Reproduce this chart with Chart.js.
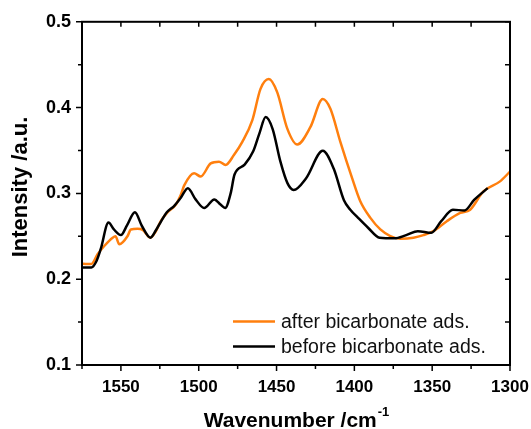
<!DOCTYPE html>
<html>
<head>
<meta charset="utf-8">
<script src="https://cdn.jsdelivr.net/npm/chart.js@4.4.1/dist/chart.umd.min.js"></script>
<style>
  html, body { margin: 0; padding: 0; background: #fff; }
  #wrap { width: 531px; height: 429px; }
</style>
</head>
<body>
<div id="wrap"><canvas id="irChart" width="531" height="429"></canvas></div>
<script>
// wavenumbers (cm-1) and intensities
const wnAfter = [1574.5, 1569, 1565, 1560.7, 1555.3, 1553.5, 1551, 1545.7, 1543.6, 1539.3,
    1536, 1531.2, 1527.5, 1524.4, 1520, 1514.7, 1511.5, 1509.4, 1503, 1498.7,
    1492.3, 1487, 1482.7, 1477.4, 1472, 1465.6, 1460.3, 1455, 1449.6, 1443.1,
    1436.7, 1428.2, 1420.3, 1415.4, 1409, 1401.5, 1396.2, 1389.7, 1383.3, 1376.9,
    1370.5, 1362, 1355.6, 1349.2, 1340.6, 1332, 1325.6, 1317.1, 1306.4, 1300];
const after = [0.218, 0.2176, 0.229, 0.2387, 0.2484, 0.250, 0.2407, 0.2503, 0.258, 0.2587,
    0.2575, 0.2484, 0.256, 0.2676, 0.278, 0.287, 0.2985, 0.309, 0.3235, 0.3197,
    0.335, 0.337, 0.3332, 0.3447, 0.36, 0.385, 0.4218, 0.4333, 0.418, 0.3755,
    0.357, 0.3775, 0.41, 0.3986, 0.36, 0.318, 0.2908, 0.2715, 0.258, 0.2503,
    0.2472, 0.2484, 0.2514, 0.256, 0.2676, 0.2772, 0.281, 0.3023, 0.314, 0.3254];

const wnBefore = [1574.5, 1569, 1566, 1563, 1558, 1554.5, 1550, 1546, 1541, 1536.5,
    1531, 1527.5, 1524, 1520.5, 1516, 1511.5, 1507, 1502, 1496.5, 1490,
    1486, 1483, 1479.5, 1477, 1470.5, 1465, 1461, 1457, 1452.5, 1447.5,
    1443, 1439, 1431, 1420.3, 1413.3, 1406.7, 1402.6, 1397.6, 1391.2, 1383.8,
    1374.2, 1366.7, 1359.2, 1350.6, 1344.2, 1336.7, 1329.3, 1322.9, 1314.3];
const before = [0.2136, 0.2136, 0.22, 0.235, 0.266, 0.258, 0.2514, 0.263, 0.278, 0.262,
    0.2484, 0.257, 0.268, 0.278, 0.285, 0.295, 0.306, 0.293, 0.283, 0.293,
    0.287, 0.283, 0.30, 0.322, 0.3335, 0.349, 0.37, 0.389, 0.375, 0.337,
    0.312, 0.304, 0.3177, 0.3497, 0.329, 0.292, 0.281, 0.2715, 0.26, 0.2484,
    0.2476, 0.2514, 0.256, 0.254, 0.2676, 0.281, 0.28, 0.2927, 0.3061];

const seriesNames = ['after bicarbonate ads.', 'before bicarbonate ads.'];
const xTitle = 'Wavenumber /cm';
const yTitle = 'Intensity /a.u.';

function pts(xs, ys) {
    return xs.map((x, i) => ({ x: x, y: ys[i] }));
}

function isMajor(v, step) {
    const r = v / step;
    return Math.abs(r - Math.round(r)) < 1e-6;
}

// frame, ticks on all four sides, axis titles and legend
const decor = {
    id: 'decor',
    afterDraw(chart) {
        const ctx = chart.ctx;
        const a = chart.chartArea;
        const xs = chart.scales.x, ys = chart.scales.y;
        ctx.save();
        ctx.strokeStyle = '#000';
        ctx.lineWidth = 1.5;
        xs.ticks.forEach(t => {
            const px = xs.getPixelForValue(t.value);
            const len = isMajor(t.value, 50) ? 6 : 4;
            ctx.beginPath();
            ctx.moveTo(px, a.bottom); ctx.lineTo(px, a.bottom + len);
            ctx.moveTo(px, a.top); ctx.lineTo(px, a.top + 5);
            ctx.stroke();
        });
        ys.ticks.forEach(t => {
            const py = ys.getPixelForValue(t.value);
            const len = isMajor(t.value, 0.1) ? 6 : 4;
            ctx.beginPath();
            ctx.moveTo(a.left, py); ctx.lineTo(a.left - len, py);
            ctx.moveTo(a.right, py); ctx.lineTo(a.right - 5, py);
            ctx.stroke();
        });
        ctx.lineWidth = 2;
        ctx.strokeRect(a.left, a.top, a.right - a.left, a.bottom - a.top);

        // x title with superscript
        ctx.fillStyle = '#000';
        ctx.textBaseline = 'alphabetic';
        ctx.font = 'bold 21px "Liberation Sans", Arial, sans-serif';
        const w1 = ctx.measureText(xTitle).width;
        ctx.font = 'bold 13px "Liberation Sans", Arial, sans-serif';
        const w2 = ctx.measureText('-1').width;
        const cx = (a.left + a.right) / 2;
        const x0 = cx - (w1 + w2) / 2;
        ctx.font = 'bold 21px "Liberation Sans", Arial, sans-serif';
        ctx.textAlign = 'left';
        ctx.fillText(xTitle, x0, 427);
        ctx.font = 'bold 13px "Liberation Sans", Arial, sans-serif';
        ctx.fillText('-1', x0 + w1 + 1, 416);

        // y title
        ctx.save();
        ctx.translate(21, 187);
        ctx.rotate(-Math.PI / 2);
        ctx.font = 'bold 22px "Liberation Sans", Arial, sans-serif';
        ctx.textAlign = 'center';
        ctx.textBaseline = 'middle';
        ctx.fillText(yTitle, 0, 0);
        ctx.restore();

        // legend
        const order = [1, 0];
        const rows = [321.5, 346.5];
        ctx.font = '19.5px "Liberation Sans", Arial, sans-serif';
        ctx.textAlign = 'left';
        ctx.textBaseline = 'middle';
        order.forEach((di, i) => {
            const ds = chart.data.datasets[di];
            ctx.strokeStyle = ds.borderColor;
            ctx.lineWidth = 2.5;
            ctx.beginPath();
            ctx.moveTo(233, rows[i]); ctx.lineTo(275, rows[i]);
            ctx.stroke();
            ctx.fillStyle = '#111';
            ctx.fillText(ds.label, 281, rows[i] + 1);
        });
        ctx.restore();
    }
};

const chart = new Chart(document.getElementById('irChart'), {
    type: 'line',
    data: {
        datasets: [
            {
                label: seriesNames[1],
                data: pts(wnBefore, before),
                borderColor: '#000000',
                borderWidth: 2.5,
                pointRadius: 0,
                cubicInterpolationMode: 'monotone',
                fill: false
            },
            {
                label: seriesNames[0],
                data: pts(wnAfter, after),
                borderColor: '#ff7f0e',
                borderWidth: 2.5,
                pointRadius: 0,
                cubicInterpolationMode: 'monotone',
                fill: false
            }
        ]
    },
    options: {
        responsive: false,
        animation: false,
        devicePixelRatio: 1,
        layout: { padding: { top: 19, right: 21, left: 0, bottom: 0 } },
        plugins: {
            legend: { display: false },
            tooltip: { enabled: false }
        },
        scales: {
            x: {
                type: 'linear',
                reverse: true,
                min: 1300,
                max: 1575,
                afterFit: s => { s.height = 64; },
                afterBuildTicks: s => {
                    const t = [];
                    for (let v = 1300; v <= 1575; v += 25) t.push({ value: v });
                    s.ticks = t;
                },
                grid: { display: false, drawTicks: false },
                border: { display: false },
                ticks: {
                    padding: 12,
                    autoSkip: false,
                    maxRotation: 0,
                    color: '#000',
                    font: { family: '"Liberation Sans", Arial, sans-serif', size: 17, weight: 'bold' },
                    callback: v => isMajor(v, 50) ? String(v) : ''
                }
            },
            y: {
                min: 0.1,
                max: 0.5,
                afterFit: s => { s.width = 82; },
                grid: { display: false, drawTicks: false },
                border: { display: false },
                ticks: {
                    stepSize: 0.05,
                    padding: 11,
                    color: '#000',
                    font: { family: '"Liberation Sans", Arial, sans-serif', size: 18, weight: 'bold' },
                    callback: v => isMajor(v, 0.1) ? v.toFixed(1) : ''
                }
            }
        }
    },
    plugins: [decor]
});
</script>
</body>
</html>
